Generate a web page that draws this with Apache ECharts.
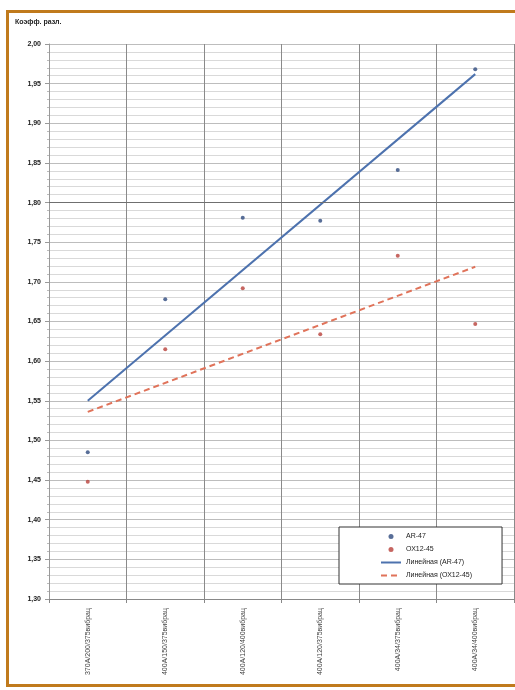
<!DOCTYPE html>
<html>
<head>
<meta charset="utf-8">
<script src="https://cdn.jsdelivr.net/npm/echarts@6/dist/echarts.min.js"></script>
<style>
    html, body { margin: 0; padding: 0; background: #fff; }
    #frame {
        position: absolute; left: 6px; top: 10px; width: 520px; height: 677px;
        border: 3px solid #c07a1c; box-sizing: border-box;
    }
    #chart { position: absolute; left: 0; top: 0; width: 515px; height: 690px; }
</style>
</head>
<body>
<div id="frame"></div>
<div id="chart"></div>
<script>
const categorias = ['370А/200/375вибрац', '400А/150/375вибрац', '400А/120/400вибрац',
    '400А/120/375вибрац', '400А/34/375вибрац', '400А/34/400вибрац']
const valoresAR = [1.485, 1.678, 1.781, 1.777, 1.841, 1.968]
const valoresOX = [1.448, 1.615, 1.692, 1.634, 1.733, 1.647]
// pontas das linhas de tendencia
const tendAR = [1.550, 1.962]
const tendOX = [1.536, 1.719]
const nomes = ['AR-47', 'ОХ12-45', 'Линейная (AR-47)', 'Линейная (ОХ12-45)']

const fonte = 'Liberation Sans, Arial, sans-serif'
const dom = document.getElementById('chart')
const myChart = echarts.init(dom, null, { renderer: 'canvas' })

const ultimo = categorias[categorias.length - 1]
const semPonto = { color: 'rgba(0,0,0,0)', borderWidth: 0, opacity: 0 }

const option = {
    animation: false,
    textStyle: { fontFamily: fonte },
    title: {
        text: 'Коэфф. разл.',
        left: 10, top: 14,
        textStyle: { fontSize: 7, fontWeight: 'bold', color: '#222', fontFamily: fonte }
    },
    grid: { left: 49, right: 1, top: 44, height: 555 },
    legend: {
        orient: 'vertical',
        left: 339, top: 527,
        padding: [6, 30, 5, 41],
        itemGap: 6,
        itemWidth: 20,
        itemHeight: 5,
        backgroundColor: '#fff',
        borderColor: '#333',
        borderWidth: 1,
        data: [
            { name: nomes[0] },
            { name: nomes[1] },
            { name: nomes[2], itemStyle: semPonto },
            { name: nomes[3], itemStyle: semPonto }
        ],
        textStyle: { fontSize: 7, color: '#222', fontFamily: fonte }
    },
    xAxis: {
        type: 'category',
        data: categorias,
        boundaryGap: true,
        axisLine: { lineStyle: { color: '#888' } },
        axisTick: { show: true, alignWithLabel: false, length: 4, lineStyle: { color: '#888' } },
        splitLine: { show: true, lineStyle: { color: '#8a8a8a', width: 1 } },
        axisLabel: {
            rotate: 90, fontSize: 7, color: '#444', margin: 9, interval: 0
        }
    },
    yAxis: {
        type: 'value',
        min: 1.30, max: 2.00, interval: 0.05,
        axisLine: { show: true, lineStyle: { color: '#999' } },
        axisTick: { show: true, length: 4, lineStyle: { color: '#999' } },
        minorTick: { show: true, splitNumber: 5, length: 2, lineStyle: { color: '#bbb' } },
        splitLine: { show: true, lineStyle: { color: '#bdbdbd', width: 1 } },
        minorSplitLine: { show: true, lineStyle: { color: '#d9d9d9', width: 1 } },
        axisLabel: {
            fontSize: 7, color: '#222', fontWeight: 'bold', margin: 8,
            formatter: v => v.toFixed(2).replace('.', ',')
        }
    },
    series: [
        {
            name: nomes[0],
            type: 'scatter',
            symbolSize: 4,
            itemStyle: { color: '#2e4a7e' },
            data: valoresAR,
            markLine: {
                silent: true, symbol: 'none', label: { show: false },
                lineStyle: { color: '#6f6f6f', type: 'solid', width: 1.2 },
                data: [{ yAxis: 1.80 }]
            },
            z: 5
        },
        {
            name: nomes[1],
            type: 'scatter',
            symbolSize: 4,
            itemStyle: { color: '#b8403a' },
            data: valoresOX,
            z: 5
        },
        {
            name: nomes[2],
            type: 'line',
            symbol: 'none',
            lineStyle: { color: '#4d72ae', width: 2 },
            itemStyle: { color: '#4d72ae' },
            data: [[categorias[0], tendAR[0]], [ultimo, tendAR[1]]],
            z: 4
        },
        {
            name: nomes[3],
            type: 'line',
            symbol: 'none',
            lineStyle: { color: '#e0735a', width: 2, type: [6, 4] },
            itemStyle: { color: '#e0735a' },
            data: [[categorias[0], tendOX[0]], [ultimo, tendOX[1]]],
            z: 4
        }
    ]
}

myChart.setOption(option)
</script>
</body>
</html>
